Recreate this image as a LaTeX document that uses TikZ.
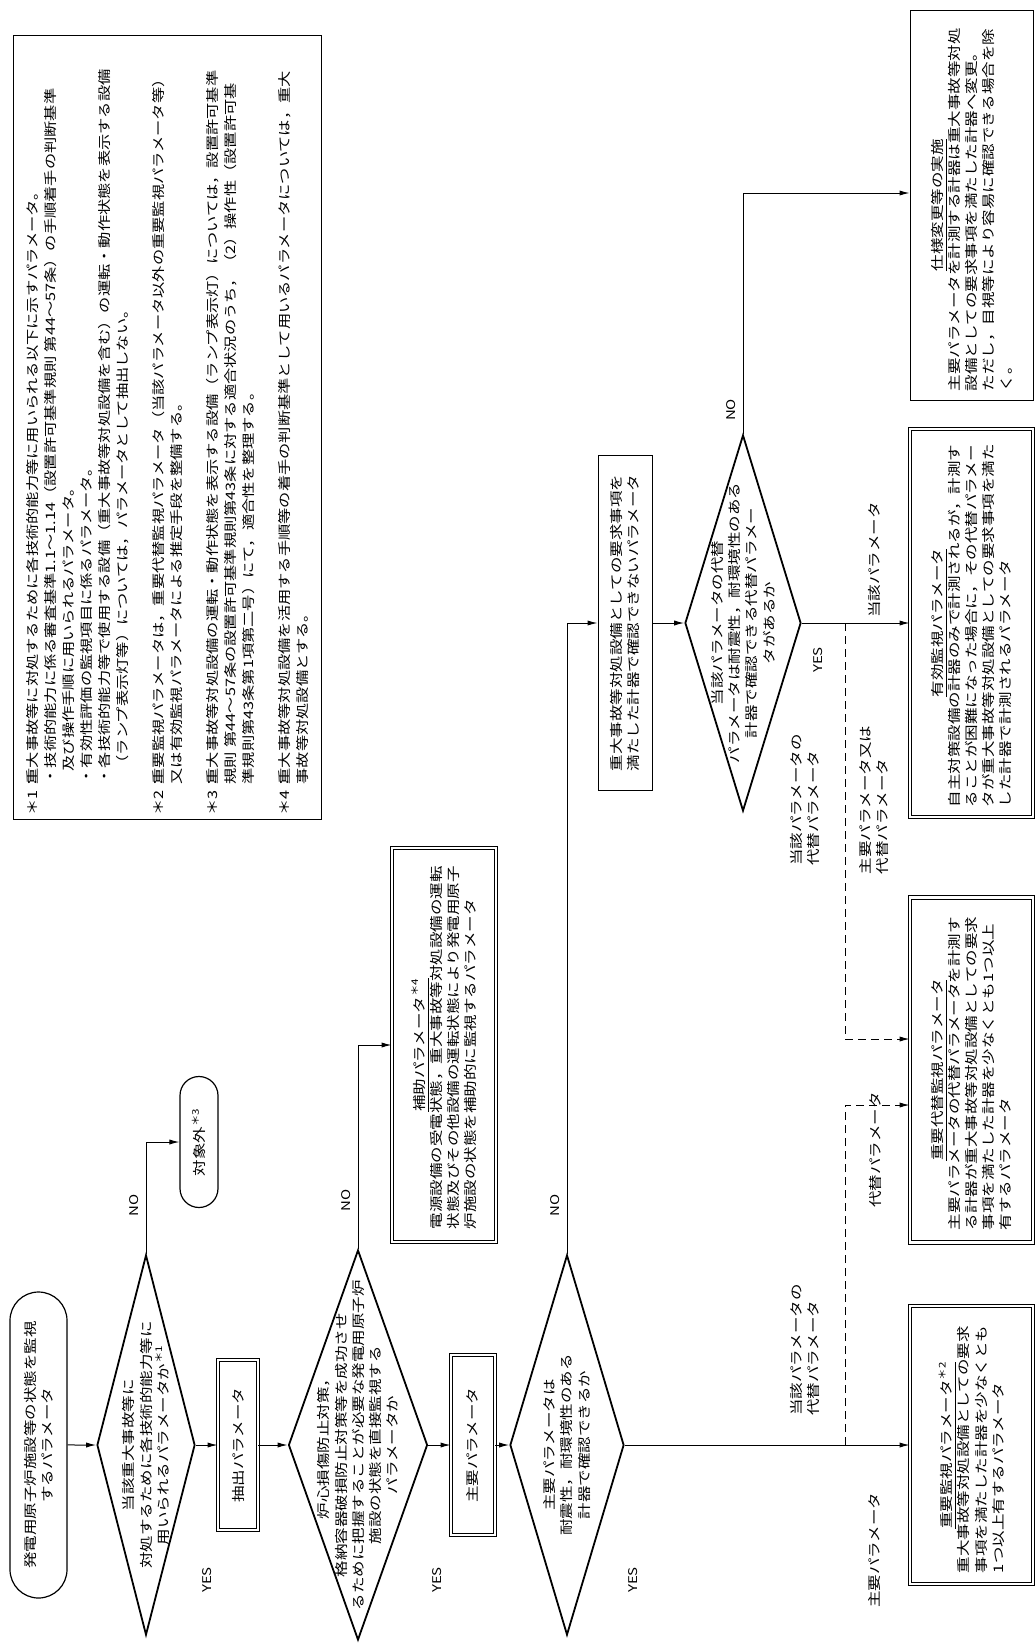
\documentclass[tikz,border=0pt]{standalone}
\usepackage{fontspec}
\newfontfamily\jpfont[FakeStretch=1.25]{Noto Sans CJK JP}
\usetikzlibrary{shapes.geometric, shapes.misc, arrows.meta, positioning, calc}

\newcommand{\notehead}[1]{\makebox[2.4em][l]{#1}}
\newcommand{\boxtitle}[1]{\hspace*{\fill}\underline{#1}\hspace*{\fill}\null}

\begin{document}
\begin{tikzpicture}[
    x=0.5pt, y=-0.5pt,
    every node/.style={rotate=90, font=\jpfont\fontsize{6.6}{8.6}\selectfont, align=center, inner sep=1pt},
    terminal/.style={draw, rounded rectangle, line width=0.6pt},
    decision/.style={draw, diamond, inner sep=0pt, line width=0.9pt},
    block/.style={draw, rectangle, line width=0.5pt, align=left},
    dblock/.style={block, double, double distance=1.4pt, line width=0.45pt},
    yn/.style={font=\jpfont\fontsize{6}{6}\selectfont},
    tag/.style={align=left},
    line/.style={draw, line width=0.5pt, -{Latex[length=5pt, width=2.6pt]}},
    alt line/.style={line, dash pattern=on 4pt off 2.5pt}
]
\useasboundingbox (0,0) rectangle (1036,1644);

\node [block, text width=388pt, minimum width=392pt, minimum height=154pt, inner sep=0pt,
       font=\jpfont\fontsize{6.5}{9}\selectfont] (notes) at (167.5,427.5)
  {\notehead{＊1：}重大事故等に対処するために各技術的能力等に用いられる以下に示すパラメータ。\\
   \notehead{}・技術的能力に係る審査基準1.1～1.14（設置許可基準規則 第44～57条）の手順着手の判断基準\\
   \notehead{}\hspace*{1em}及び操作手順に用いられるパラメータ。\\
   \notehead{}・有効性評価の監視項目に係るパラメータ。\\
   \notehead{}・各技術的能力等で使用する設備（重大事故等対処設備を含む）の運転・動作状態を表示する設備\\
   \notehead{}\hspace*{1em}（ランプ表示灯等）については，パラメータとして抽出しない。\\[9pt]
   \notehead{＊2：}重要監視パラメータは，重要代替監視パラメータ（当該パラメータ以外の重要監視パラメータ等）\\
   \notehead{}又は有効監視パラメータによる推定手段を整備する。\\[9pt]
   \notehead{＊3：}重大事故等対処設備の運転・動作状態を表示する設備（ランプ表示灯）については，設置許可基準\\
   \notehead{}規則 第44～57条の設置許可基準規則第43条に対する適合状況のうち，（2）操作性（設置許可基\\
   \notehead{}準規則第43条第1項第二号）にて，適合性を整理する。\\[9pt]
   \notehead{＊4：}重大事故等対処設備を活用する手順等の着手の判断基準として用いるパラメータについては，重大\\
   \notehead{}事故等対処設備とする。};

\node [terminal, minimum width=155pt, minimum height=28.5pt] (start) at (38.5,1445)
  {発電用原子炉施設等の状態を監視\\するパラメータ};
\node [decision, minimum width=190pt, minimum height=49pt] (dia1) at (146,1445) {};
\node (dia1t) at (dia1) {当該重大事故等に\\対処するために各技術的能力等に\\用いられるパラメータか\textsuperscript{＊1}};
\node [terminal, minimum width=67.5pt, minimum height=19pt] (taisho) at (199,1142) {対象外\textsuperscript{＊3}};
\node [dblock, align=center, minimum width=85pt, minimum height=20pt] (extract) at (238,1445) {抽出パラメータ};
\node [decision, minimum width=195pt, minimum height=69.5pt] (dia2) at (358,1445) {};
\node (dia2t) at (dia2) {炉心損傷防止対策，\\格納容器破損防止対策等を成功させ\\るために把握することが必要な発電用原子炉\\施設の状態を直接監視する\\パラメータか};
\node [dblock, text width=184pt, minimum width=197pt, minimum height=52pt] (aux) at (444,1045)
  {\boxtitle{補助パラメータ\textsuperscript{＊4}}\\
   電源設備の受電状態，重大事故等対処設備の運転\\
   状態及びその他設備の運転状態により発電用原子\\
   炉施設の状態を補助的に監視するパラメータ};
\node [dblock, align=center, minimum width=90pt, minimum height=22pt] (mainp) at (473,1445) {主要パラメータ};
\node [decision, minimum width=190pt, minimum height=57pt] (dia3) at (567,1445) {};
\node (dia3t) at (dia3) {主要パラメータは\\耐震性，耐環境性のある\\計器で確認できるか};
\node [block, minimum width=167.5pt, minimum height=27pt] (notsa) at (625,623)
  {重大事故等対処設備としての要求事項を\\満たした計器で確認できないパラメータ};
\node [decision, minimum width=188pt, minimum height=58pt] (dia4) at (743,623) {};
\node (dia4t) at (dia4) {当該パラメータの代替\\パラメータは耐震性，耐環境性のある\\計器で確認できる代替パラメー\\タがあるか};

\node [block, text width=186pt, minimum width=195pt, minimum height=61.5pt] (spec) at (971.5,205)
  {\boxtitle{仕様変更等の実施}\\
   主要パラメータを計測する計器は重大事故等対処\\
   設備としての要求事項を満たした計器へ変更。\\
   ただし，目視等により容易に確認できる場合を除\\
   く。};
\node [dblock, text width=184pt, minimum width=194pt, minimum height=61.5pt] (eff) at (971.5,623)
  {\boxtitle{有効監視パラメータ}\\
   自主対策設備の計器のみで計測されるが，計測す\\
   ることが困難になった場合に，その代替パラメー\\
   タが重大事故等対処設備としての要求事項を満た\\
   した計器で計測されるパラメータ};
\node [dblock, text width=160pt, minimum width=172.5pt, minimum height=61.5pt] (alt) at (971.5,1070)
  {\boxtitle{重要代替監視パラメータ}\\
   主要パラメータの代替パラメータを計測す\\
   る計器が重大事故等対処設備としての要求\\
   事項を満たした計器を少なくとも1つ以上\\
   有するパラメータ};
\node [dblock, text width=128pt, minimum width=139pt, minimum height=61.5pt] (imp) at (971.5,1445)
  {\boxtitle{重要監視パラメータ\textsuperscript{＊2}}\\
   重大事故等対処設備としての要求\\
   事項を満たした計器を少なくとも\\
   1つ以上有するパラメータ};

\node [yn] (yes1) at (207,1580) {YES};
\node [yn] (no1) at (134,1205) {NO};
\node [yn] (yes2) at (437,1580) {YES};
\node [yn] (no2) at (346,1200) {NO};
\node [yn] (yes3) at (633,1580) {YES};
\node [yn] (no3) at (555,1205) {NO};
\node [yn] (yes4) at (818,660) {YES};
\node [yn] (no4) at (731,410) {NO};

\node [tag] (lbmain) at (875,1550) {主要パラメータ};
\node [tag] (lbsub) at (875,1150) {代替パラメータ};
\node [tag] (lbcur1) at (805,1350) {当該パラメータの\\代替パラメータ};
\node [tag] (lbcur2) at (805,800) {当該パラメータの\\代替パラメータ};
\node [tag] (lbor) at (874,800) {主要パラメータ又は\\代替パラメータ};
\node [tag] (lbthis) at (874,560) {当該パラメータ};

\path [line] (start) -- (dia1);
\path [line] (dia1) -- (extract);
\path [line] (dia1.east) |- (taisho.north);
\path [line] (extract) -- (dia2);
\path [line] (dia2) -- (mainp);
\path [line] (dia2.east) |- (aux.north);
\path [line] (mainp) -- (dia3);
\path [line] (dia3) -- (imp);
\path [line] (dia3.east) |- (notsa.north);
\path [line] (notsa) -- (dia4);
\path [line] (dia4) -- (eff);
\path [line] (dia4.east) |- ([yshift=6pt]spec.north);

\coordinate (jeff) at (845,623);
\coordinate (jimp) at (845,1445);
\path [alt line] (jeff) |- ([yshift=15.5pt]alt.north);
\path [alt line] (jimp) |- ([yshift=-17.5pt]alt.north);
\end{tikzpicture}
\end{document}
